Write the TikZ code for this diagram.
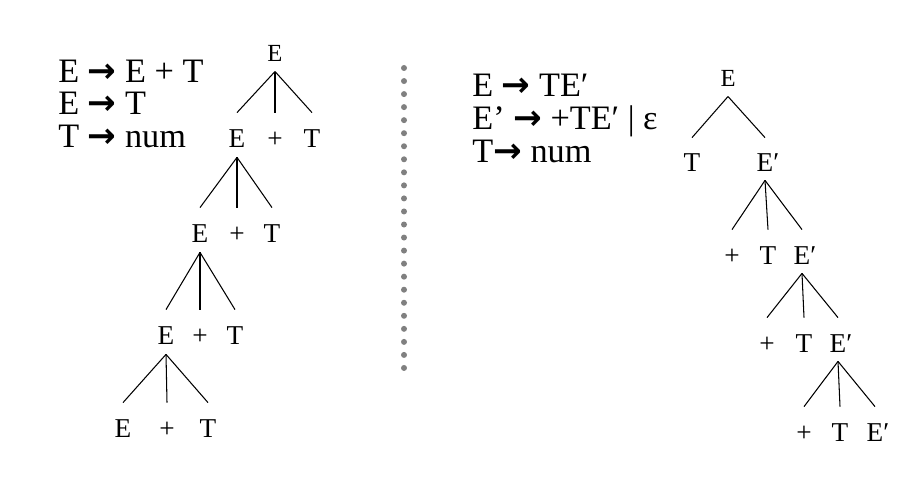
\documentclass[tikz,border=0pt]{standalone}
\usepackage{fontspec}
\setmainfont{Liberation Serif}
\newfontfamily\arrowfont{DejaVu Sans}
\usetikzlibrary{positioning}
\newcommand{\derives}{{\arrowfont\bfseries →}}
\newcommand{\Ep}{E\rlap{′}}

\begin{document}
\begin{tikzpicture}[x=0.02cm, y=-0.02cm,
        rule/.style={anchor=base west, inner sep=0pt, font=\fontsize{19.5}{23}\selectfont},
        sym/.style={inner sep=0pt, text height=10.3pt, text depth=0pt, font=\fontsize{15.5}{18}\selectfont},
        root/.style={inner sep=0pt, text height=9.3pt, text depth=0pt, font=\fontsize{14}{17}\selectfont},
        branch/.style={line width=0.6pt},
        dots/.style={draw=gray, line width=0.12cm, line cap=round, dash pattern=on 0pt off 0.2609cm}
        ]
        \useasboundingbox (0,0) rectangle (922,486);

        % Grammars
        \node [rule] (g1) at (58,83) {E \derives{} E + T};
        \node [rule] (g2) at (58,115) {E \derives{} T};
        \node [rule] (g3) at (58,148) {T \derives{} num};

        \node [rule] (h1) at (472,97) {E \derives{} TE′};
        \node [rule] (h2) at (472,130) {E’ \derives{} +TE′ | ε};
        \node [rule] (h3) at (472,163) {T\derives{} num};

        % Separator
        \coordinate (septop) at (404,68);
        \coordinate (sepbot) at (404,368);
        \draw [dots] (septop) -- (sepbot);

        % Left-recursive tree
        \node [root] (a0) at (275,53) {E};
        \node [sym] (a1e) at (237,138) {E};
        \node [sym] (a1p) at (275,138) {+};
        \node [sym] (a1t) at (312,138) {T};
        \node [sym] (a2e) at (200,233) {E};
        \node [sym] (a2p) at (237,233) {+};
        \node [sym] (a2t) at (272,233) {T};
        \node [sym] (a3e) at (166,335) {E};
        \node [sym] (a3p) at (200,335) {+};
        \node [sym] (a3t) at (235,335) {T};
        \node [sym] (a4e) at (123,428) {E};
        \node [sym] (a4p) at (167,428) {+};
        \node [sym] (a4t) at (208,428) {T};

        \foreach \p/\r in {a0/a1, a1e/a2, a2e/a3, a3e/a4}
            \foreach \c in {e,p,t}
                \draw [branch] ([yshift=-0.2cm]\p.south) -- ([yshift=0.32cm]\r\c.north);

        % Right-recursive tree
        \node [root] (b0) at (728,78) {E};
        \node [sym] (b1t) at (692,162) {T};
        \node [sym] (b1e) at (765,162) {\Ep};
        \node [sym] (b2p) at (732,255) {+};
        \node [sym] (b2t) at (768,255) {T};
        \node [sym] (b2e) at (802,255) {\Ep};
        \node [sym] (b3p) at (767,343) {+};
        \node [sym] (b3t) at (804,343) {T};
        \node [sym] (b3e) at (838,343) {\Ep};
        \node [sym] (b4p) at (804,432) {+};
        \node [sym] (b4t) at (840,432) {T};
        \node [sym] (b4e) at (875,432) {\Ep};

        \draw [branch] ([yshift=-0.2cm]b0.south) -- ([yshift=0.3cm]b1t.north);
        \draw [branch] ([yshift=-0.2cm]b0.south) -- ([yshift=0.3cm]b1e.north);
        \foreach \p/\r in {b1e/b2, b2e/b3, b3e/b4}
            \foreach \c in {p,t,e}
                \draw [branch] ([yshift=-0.18cm]\p.south) -- ([yshift=0.32cm]\r\c.north);

    \end{tikzpicture}
\end{document}
